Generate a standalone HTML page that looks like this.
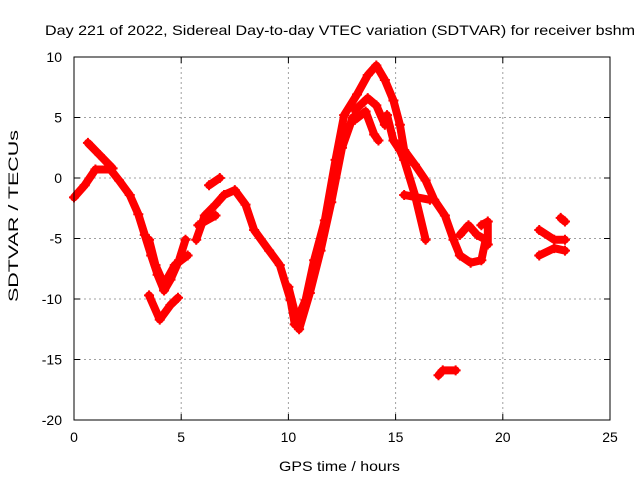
<!DOCTYPE html>
<html><head><meta charset="utf-8"><style>
body{margin:0;background:#fff}
svg{font-family:"Liberation Sans",sans-serif;font-size:14px}
</style></head><body>
<svg id="chart" width="640" height="480">
<text x="45" y="35" textLength="590" lengthAdjust="spacingAndGlyphs">Day 221 of 2022, Sidereal Day-to-day VTEC variation (SDTVAR) for receiver bshm</text>
<text x="279" y="471" textLength="121" lengthAdjust="spacingAndGlyphs">GPS time / hours</text>
<text transform="translate(18,302) rotate(-90)" textLength="172" lengthAdjust="spacingAndGlyphs">SDTVAR / TECUs</text>
<g id="grid"></g><g id="ticks"></g><g id="marks"></g>
<rect x="74" y="57" width="536" height="363" fill="none" stroke="#000"/>
</svg>
<script>
const xTicks=[0,5,10,15,20,25];
const yTicks=[10,5,0,-5,-10,-15,-20];
const trackA=[[0,-1.6],[0.5,-0.6],[1.0,0.7],[1.7,0.7],[2.1,-0.2],[2.6,-1.4],[3.0,-3],[3.3,-4.7],[3.6,-6.4],[3.9,-8],[4.2,-9.3],[4.5,-8.4],[4.9,-6.8],[5.2,-5.1]];
const trackB=[[0.65,2.9],[1.2,1.9],[1.8,0.8]];
const trackC=[[3.5,-5.1],[3.8,-7.2],[4.2,-8.8],[4.7,-7.2],[5.3,-6.4]];
const trackD=[[3.5,-9.7],[4.0,-11.7],[4.5,-10.5],[4.85,-9.9]];
const trackE=[[5.7,-5.1],[6.1,-3.1],[6.6,-2.2],[7.0,-1.4],[7.5,-1],[8.0,-2.2],[8.4,-4.3],[9.1,-6],[9.6,-7.2],[10.1,-10.1],[10.3,-12.1]];
const trackF=[[5.8,-3.9],[6.6,-3.1]];
const trackG=[[6.3,-0.6],[6.8,0]];
const trackH=[[10.3,-12.1],[10.8,-10.1],[11.2,-6.8],[11.7,-3.5],[12.2,1.5],[12.6,5.2],[13.2,6.9],[13.7,8.5],[14.1,9.3],[14.5,8.1],[14.9,6.4],[15.2,4.4],[15.4,2.3],[15.9,1.1],[16.4,-0.2],[16.8,-1.8],[17.3,-3.1],[17.7,-5.1],[18.0,-6.4]];
const trackH2=[[10.0,-9],[10.5,-12.5],[11.0,-9.5],[11.5,-6],[12.0,-2],[12.5,2.5],[13.0,5]];
const trackI=[[13.1,5.6],[13.7,6.6],[14.1,6],[14.5,4.4]];
const trackJ=[[13.1,4.8],[13.6,5.5],[14.0,3.6],[14.2,3.1]];
const trackK=[[14.6,5.2],[14.9,3.1],[15.2,2.3],[15.4,1.5],[15.9,-1.4],[16.4,-5.1]];
const trackL=[[15.4,-1.4],[16.6,-1.8]];
const trackM=[[18.0,-6.4],[18.5,-7],[19.0,-6.8],[19.2,-5.1],[18.8,-4.7],[18.4,-3.9],[18.0,-4.7]];
const trackN=[[19.0,-3.9],[19.3,-3.6],[19.3,-5.5]];
const trackO=[[17.0,-16.3],[17.2,-15.9],[17.8,-15.9]];
const trackP=[[21.7,-6.4],[22.4,-5.8],[22.9,-6]];
const trackQ=[[21.7,-4.3],[22.4,-5.1],[22.9,-5.1]];
const trackR=[[22.7,-3.3],[22.9,-3.6]];
const tracks=[trackA,trackB,trackC,trackD,trackE,trackF,trackG,trackH,trackH2,trackI,trackJ,trackK,trackL,trackM,trackN,trackO,trackP,trackQ,trackR];
const X=v=>74+v*536/25, Y=v=>57+(10-v)*363/30;
const NS="http://www.w3.org/2000/svg";
const grid=document.getElementById('grid'),ticks=document.getElementById('ticks'),marks=document.getElementById('marks');
function mk(p,t,a){const e=document.createElementNS(NS,t);for(const k in a)e.setAttribute(k,a[k]);p.appendChild(e);return e;}
xTicks.forEach(t=>{const x=X(t);
 if(t>0&&t<25){const g=mk(grid,'line',{x1:x,x2:x,y1:57,y2:420,stroke:'#a0a0a0','stroke-dasharray':'2,3'});
 
 }
 mk(ticks,'line',{x1:x,x2:x,y1:420,y2:414,stroke:'#000'});mk(ticks,'line',{x1:x,x2:x,y1:57,y2:63,stroke:'#000'});
 const l=mk(ticks,'text',{x:x,y:442,'text-anchor':'middle'});l.textContent=t;
 
 });
yTicks.forEach(t=>{const y=Y(t);
 if(t>-20&&t<10){const g=mk(grid,'line',{x1:74,x2:610,y1:y,y2:y,stroke:'#a0a0a0','stroke-dasharray':'2,3'});
 
 }
 mk(ticks,'line',{x1:74,x2:80,y1:y,y2:y,stroke:'#000'});mk(ticks,'line',{x1:604,x2:610,y1:y,y2:y,stroke:'#000'});
 const l=mk(ticks,'text',{x:62,y:y+5,'text-anchor':'end'});l.textContent=t;
 
 });
tracks.forEach(tr=>{
 const p=mk(marks,'polyline',{points:tr.map(d=>X(d[0])+','+Y(d[1])).join(' '),fill:'none',stroke:'#f00','stroke-width':8,'stroke-linejoin':'round','stroke-linecap':'round'});
 
 
 tr.forEach(d=>{const x=X(d[0]),y=Y(d[1]);
  const c=mk(marks,'path',{d:`M${x-5},${y}H${x+5}M${x},${y-5}V${y+5}`,stroke:'#f00','stroke-width':2});
  
  });
});
</script>
</body></html>
